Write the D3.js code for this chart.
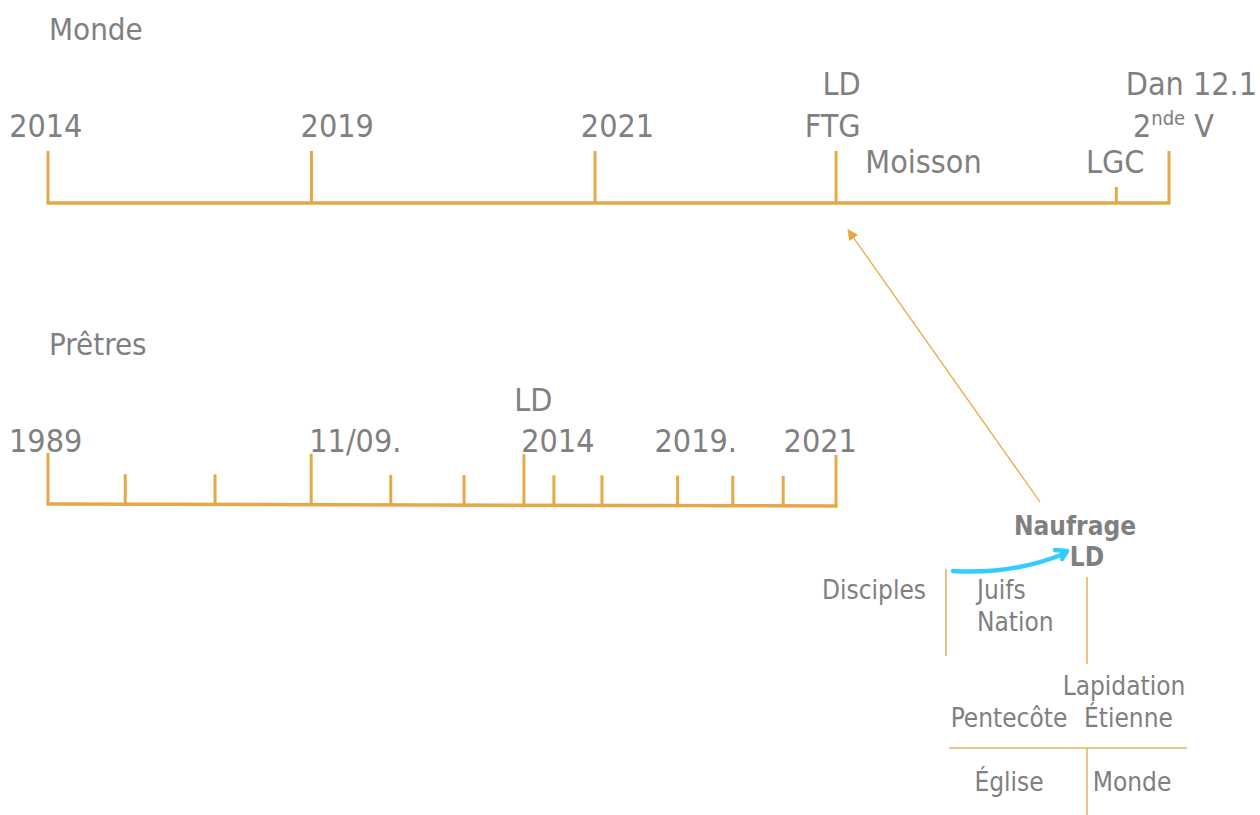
<!DOCTYPE html>
<html>
<head>
<meta charset="utf-8">
<script src="https://cdn.jsdelivr.net/npm/d3@7"></script>
<style>
  body { margin: 0; background: #fff; }
  text { font-family: "DejaVu Sans Condensed", "DejaVu Sans", sans-serif; fill: #808080; }
</style>
</head>
<body>
<div id="chart"></div>
<script>
// timeline "Monde" : position of each tick along the line (0 = start, 100 = end)
const mondeTickPos = [0, 23.5, 48.8, 70.3, 95.3, 100];
const mondeTickKind = ["major", "major", "major", "major", "minor", "major"];
const mondeLabels = ["2014", "2019", "2021", "LD", "FTG", "Moisson", "LGC", "Dan 12.1", "2nde V"];
const mondeLabelPos = [-0.2, 25.8, 50.8, 70.8, 70.0, 78.1, 95.2, 102.0, 100.4];
const mondeLabelRow = [2, 2, 2, 1, 2, 3, 3, 1, 2];

// timeline "Prêtres"
const pretresTickPos = [0, 9.8, 21.2, 33.4, 43.5, 52.8, 60.4, 64.2, 70.3, 79.9, 86.9, 93.3, 100];
const pretresTickKind = ["major", "minor", "minor", "major", "minor", "minor", "major",
  "minor", "minor", "minor", "minor", "minor", "major"];
const pretresLabels = ["1989", "11/09.", "LD", "2014", "2019.", "2021"];
const pretresLabelPos = [-0.3, 39.0, 61.6, 64.7, 82.2, 98.0];
const pretresLabelRow = [2, 2, 1, 2, 2, 2];

// petit schéma en bas à droite
const schemaTitle = ["Naufrage", "LD"];
const schemaLabels = ["Disciples", "Juifs", "Nation", "Lapidation", "Pentecôte", "Étienne", "Église", "Monde"];

var width = 1260,
  height = 815;
var orange = "#e6a846";

var svg = d3
  .select("#chart")
  .append("svg")
  .attr("width", width)
  .attr("height", height);

var defs = svg.append("defs");
defs
  .append("marker")
  .attr("id", "head")
  .attr("viewBox", "0 0 10 10")
  .attr("refX", 9)
  .attr("refY", 5)
  .attr("markerWidth", 11)
  .attr("markerHeight", 11)
  .attr("markerUnits", "userSpaceOnUse")
  .attr("orient", "auto")
  .append("path")
  .attr("d", "M0,0 L10,5 L0,10 z")
  .attr("fill", orange);

function drawTimeline(opt) {
  var x = d3.scaleLinear().domain([0, 100]).range([opt.x0, opt.x1]);
  var g = svg.append("g");

  g.append("text")
    .attr("x", opt.x0 + 1)
    .attr("y", opt.titleY)
    .style("font-size", "31px")
    .text(opt.title);

  g.append("line")
    .attr("x1", x(0) - 1.5)
    .attr("x2", x(100) + 1.5)
    .attr("y1", opt.y)
    .attr("y2", opt.y + opt.tilt)
    .attr("stroke", orange)
    .attr("stroke-width", 3.5);

  g.selectAll(".tick")
    .data(opt.ticks)
    .enter()
    .append("line")
    .attr("class", "tick")
    .attr("x1", function (d) { return x(d); })
    .attr("x2", function (d) { return x(d); })
    .attr("y1", function (d) { return opt.y + (opt.tilt * d) / 100; })
    .attr("y2", function (d, i) {
      return opt.y + (opt.tilt * d) / 100 - (opt.kinds[i] == "major" ? opt.major : opt.minor);
    })
    .attr("stroke", orange)
    .attr("stroke-width", 3);

  g.selectAll(".lab")
    .data(opt.labels)
    .enter()
    .append("text")
    .attr("class", "lab")
    .attr("x", function (d, i) { return x(opt.labelPos[i]); })
    .attr("y", function (d, i) { return opt.y + opt.rows[opt.labelRow[i]]; })
    .attr("text-anchor", "middle")
    .style("font-size", "32px")
    .each(function (d) {
      var t = d3.select(this);
      var m = d.match(/^(\d)(nde)(.*)$/);
      if (m) {
        t.append("tspan").text(m[1]);
        t.append("tspan").attr("dy", -12).style("font-size", "20px").text(m[2]);
        t.append("tspan").attr("dy", 12).text(m[3]);
      } else {
        t.text(d);
      }
    });
  return x;
}

var xMonde = drawTimeline({
  title: "Monde", titleY: 40,
  x0: 48, x1: 1169, y: 203, tilt: 0,
  ticks: mondeTickPos, kinds: mondeTickKind, major: 52, minor: 16,
  labels: mondeLabels, labelPos: mondeLabelPos, labelRow: mondeLabelRow,
  rows: { 1: -108, 2: -66, 3: -30 }
});

var xPretres = drawTimeline({
  title: "Prêtres", titleY: 355,
  x0: 48, x1: 836, y: 504, tilt: 2,
  ticks: pretresTickPos, kinds: pretresTickKind, major: 51, minor: 30,
  labels: pretresLabels, labelPos: pretresLabelPos, labelRow: pretresLabelRow,
  rows: { 1: -93, 2: -52 }
});

// flèche du naufrage vers LD / FTG
svg.append("line")
  .attr("x1", 1040)
  .attr("y1", 502)
  .attr("x2", xMonde(mondeTickPos[3]) + 12)
  .attr("y2", 203 + 27)
  .attr("stroke", orange)
  .attr("stroke-width", 1.3)
  .attr("marker-end", "url(#head)");

// schéma
var s = svg.append("g");
var thin = [
  [946, 569, 946, 656],
  [1087, 577, 1087, 664],
  [949, 748, 1187, 748],
  [1087, 748, 1087, 815]
];
s.selectAll(".thin")
  .data(thin)
  .enter()
  .append("line")
  .attr("x1", function (d) { return d[0]; })
  .attr("y1", function (d) { return d[1]; })
  .attr("x2", function (d) { return d[2]; })
  .attr("y2", function (d) { return d[3]; })
  .attr("stroke", orange)
  .attr("stroke-width", 1.6)
  .attr("opacity", 0.85);

var titlePlace = [[1075, 535], [1087, 566]];
s.selectAll(".stitle")
  .data(schemaTitle)
  .enter()
  .append("text")
  .attr("x", function (d, i) { return titlePlace[i][0]; })
  .attr("y", function (d, i) { return titlePlace[i][1]; })
  .attr("text-anchor", "middle")
  .style("font-size", "26px")
  .style("font-weight", "bold")
  .text(function (d) { return d; });

var labelPlace = [
  [874, 599, "middle"], [977, 599, "start"], [977, 631, "start"],
  [1124, 695, "middle"], [1009, 727, "middle"], [1084, 727, "start"],
  [1009, 791, "middle"], [1132, 791, "middle"]
];
s.selectAll(".slab")
  .data(schemaLabels)
  .enter()
  .append("text")
  .attr("x", function (d, i) { return labelPlace[i][0]; })
  .attr("y", function (d, i) { return labelPlace[i][1]; })
  .attr("text-anchor", function (d, i) { return labelPlace[i][2]; })
  .style("font-size", "26px")
  .text(function (d) { return d; });

// trait bleu à main levée
s.append("path")
  .attr("d", "M953,571 C985,573 1025,570 1066,553")
  .attr("fill", "none")
  .attr("stroke", "#33ccff")
  .attr("stroke-width", 4.5)
  .attr("stroke-linecap", "round");
s.append("path")
  .attr("d", "M1055,550 L1067,551 L1062,559")
  .attr("fill", "none")
  .attr("stroke", "#33ccff")
  .attr("stroke-width", 4.5)
  .attr("stroke-linecap", "round")
  .attr("stroke-linejoin", "round");
</script>
</body>
</html>
